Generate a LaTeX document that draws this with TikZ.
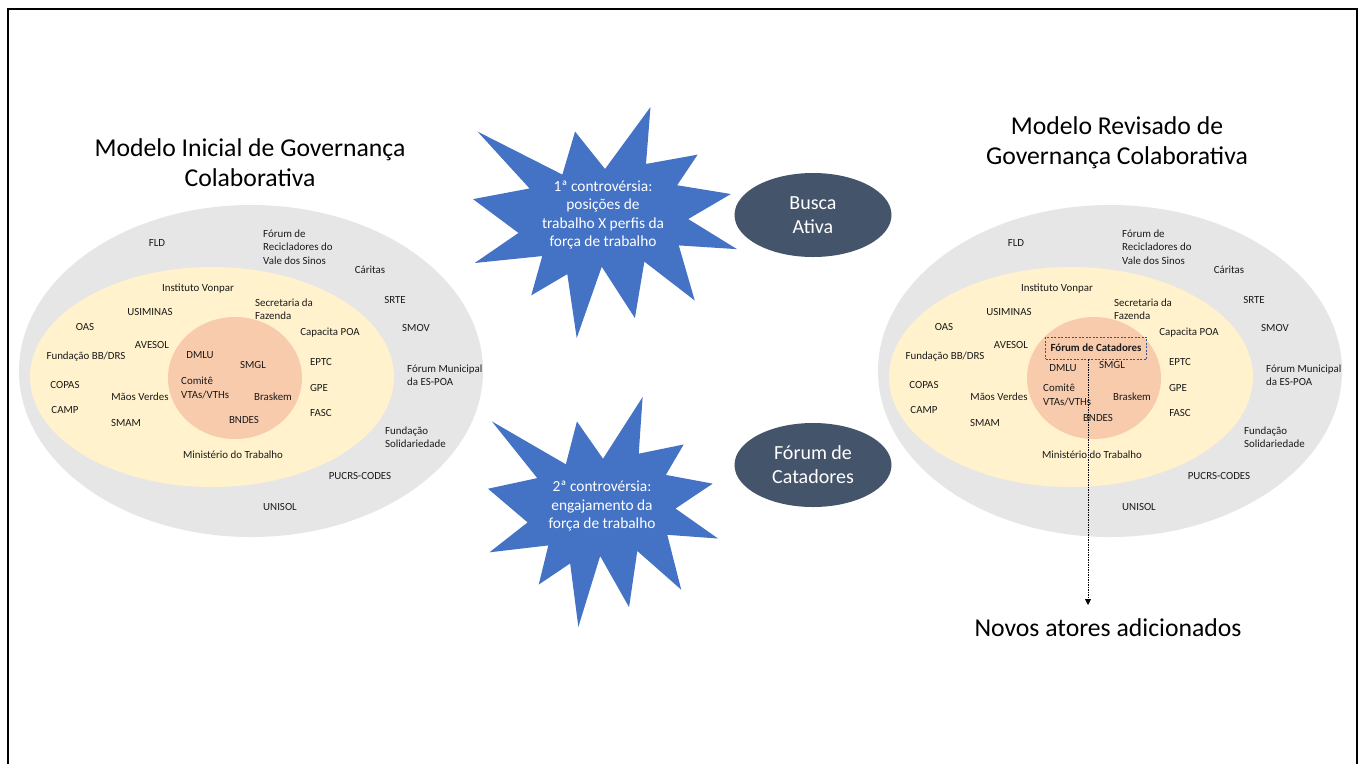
\documentclass[tikz,border=0pt]{standalone}
\usepackage{fontspec}
\setmainfont{Carlito}
\usetikzlibrary{shapes.geometric,arrows.meta}
\definecolor{outerg}{HTML}{E7E6E6}
\definecolor{midy}{HTML}{FFF2CC}
\definecolor{inno}{HTML}{F8CBAD}
\definecolor{starb}{HTML}{4472C4}
\definecolor{darkel}{HTML}{44546A}
\definecolor{txt}{HTML}{1A1A1A}
\definecolor{boxb}{HTML}{2F5597}
\tikzset{
  lbl/.style={font=\fontsize{10.9}{13.5}\selectfont, text=txt, inner sep=0pt},
  lblw/.style={lbl, anchor=west, align=left},
  titletxt/.style={font=\fontsize{25.7}{30}\selectfont, text=black, inner sep=0pt, align=center},
  startxt/.style={font=\fontsize{15.4}{18.5}\selectfont, text=white, align=center, inner sep=0pt},
  darkell/.style={ellipse, fill=darkel, text=white, minimum width=157pt, minimum height=84pt,
    inner sep=0pt, align=center, font=\fontsize{20}{24}\selectfont},
  explpath/.style={insert path={(0.5,0.2685) -- (0.6723,0) -- (0.6553,0.2465) -- (0.8509,0.2063)
    -- (0.7732,0.3387) -- (0.9767,0.3767) -- (0.8151,0.4850) -- (1,0.6153) -- (0.7795,0.5992)
    -- (0.8400,0.8377) -- (0.6491,0.6693) -- (0.6133,0.9137) -- (0.4876,0.6914) -- (0.3928,1)
    -- (0.3572,0.7235) -- (0.2205,0.8156) -- (0.2624,0.6452) -- (0.0063,0.6753) -- (0.1723,0.5451)
    -- (0,0.3988) -- (0.2142,0.3526) -- (0.0171,0.1063) -- (0.3385,0.2926) -- (0.3867,0.1063) -- cycle}},
  dashbox/.style={draw=boxb, dash pattern=on 2pt off 1.5pt, line width=0.8pt,
    font=\bfseries\fontsize{10.9}{12}\selectfont, text=txt, minimum width=101pt, minimum height=22pt, inner sep=0pt},
  dotarrow/.style={dash pattern=on 1.5pt off 1pt, line width=0.8pt, -{Triangle[length=6pt,width=6pt]}},
}
% #1 xshift, #2 prefix, #3 DMLU position, #4 Comite position (west), #5 BNDES position
\newcommand\govmodel[5]{%
\begin{scope}[xshift=#1pt]
\fill[outerg] (251,371) ellipse [x radius=232, y radius=166];
\fill[midy] (212,377) ellipse [x radius=182, y radius=110];
\fill[inno] (235,378) ellipse [x radius=67, y radius=61];
\node[lbl] (#2fld) at (157,243) {FLD};
\node[lblw] (#2frec) at (263,247) {Fórum de\\Recicladores do\\Vale dos Sinos};
\node[lbl] (#2car) at (370,270) {Cáritas};
\node[lbl] (#2ivo) at (198,289) {Instituto Vonpar};
\node[lblw] (#2sec) at (255,309) {Secretaria da\\Fazenda};
\node[lbl] (#2srte) at (395,300) {SRTE};
\node[lbl] (#2usi) at (150,312) {USIMINAS};
\node[lbl] (#2oas) at (85,327) {OAS};
\node[lbl] (#2smov) at (416,328) {SMOV};
\node[lbl] (#2cap) at (330,333) {Capacita POA};
\node[lbl] (#2ave) at (152,345) {AVESOL};
\node[lbl] (#2fbb) at (86,357) {Fundação BB/DRS};
\node[lbl] (#2dmlu) at (#3) {DMLU};
\node[lbl] (#2smgl) at (253,365) {SMGL};
\node[lbl] (#2eptc) at (321,362) {EPTC};
\node[lblw] (#2fmun) at (407,375) {Fórum Municipal\\da ES-POA};
\node[lbl] (#2cop) at (65,385) {COPAS};
\node[lblw] (#2com) at (#4) {Comitê\\VTAs/VTHs};
\node[lbl] (#2gpe) at (319,388) {GPE};
\node[lbl] (#2mao) at (140,397) {Mãos Verdes};
\node[lbl] (#2bra) at (273,397) {Braskem};
\node[lbl] (#2camp) at (65,410) {CAMP};
\node[lbl] (#2fasc) at (321,413) {FASC};
\node[lbl] (#2bnd) at (#5) {BNDES};
\node[lbl] (#2smam) at (126,423) {SMAM};
\node[lblw] (#2fsol) at (385,437) {Fundação\\Solidariedade};
\node[lbl] (#2min) at (233,455) {Ministério do Trabalho};
\node[lbl] (#2puc) at (360,476) {PUCRS-CODES};
\node[lbl] (#2uni) at (280,507) {UNISOL};
\end{scope}}
\begin{document}
\begin{tikzpicture}[x=1pt,y=-1pt]
\useasboundingbox (0,0) rectangle (1364,764);
\fill[white] (0,0) rectangle (1364,764);
\draw[line width=1.5pt] (8,764) -- (8,9) -- (1357,9) -- (1357,764);

% titles
\node[titletxt] (tleft) at (250,163) {Modelo Inicial de Governança\\Colaborativa};
\node[titletxt] (tright) at (1117,143) {Modelo Revisado de\\Governança Colaborativa};

% models
\govmodel{0}{L}{200,355}{181,388}{244,420}
\govmodel{859}{R}{204,368}{184,395}{239,418}

% new actor
\node[dashbox] (Rfc) at (1096,348) {Fórum de Catadores};
\coordinate (novtip) at (1088,605);
\draw[dotarrow] (Rfc.south -| novtip) -- (novtip);
\node[titletxt] (novos) at (1108,628) {Novos atores adicionados};

% explosions
\begin{scope}[shift={(473pt,-107pt)}, x=264pt, y=-231pt]
\fill[starb, explpath];
\end{scope}
\begin{scope}[shift={(488pt,-397pt)}, x=230pt, y=-230pt]
\fill[starb, explpath];
\end{scope}
\node[startxt] (c1) at (603,215) {1ª controvérsia:\\posições de\\trabalho X perfis da\\força de trabalho};
\node[startxt] (c2) at (602,506) {2ª controvérsia:\\engajamento da\\força de trabalho};

% dark ellipses
\node[darkell] (busca) at (813,215) {Busca\\Ativa};
\node[darkell] (forum) at (813,465) {Fórum de\\Catadores};
\end{tikzpicture}
\end{document}
